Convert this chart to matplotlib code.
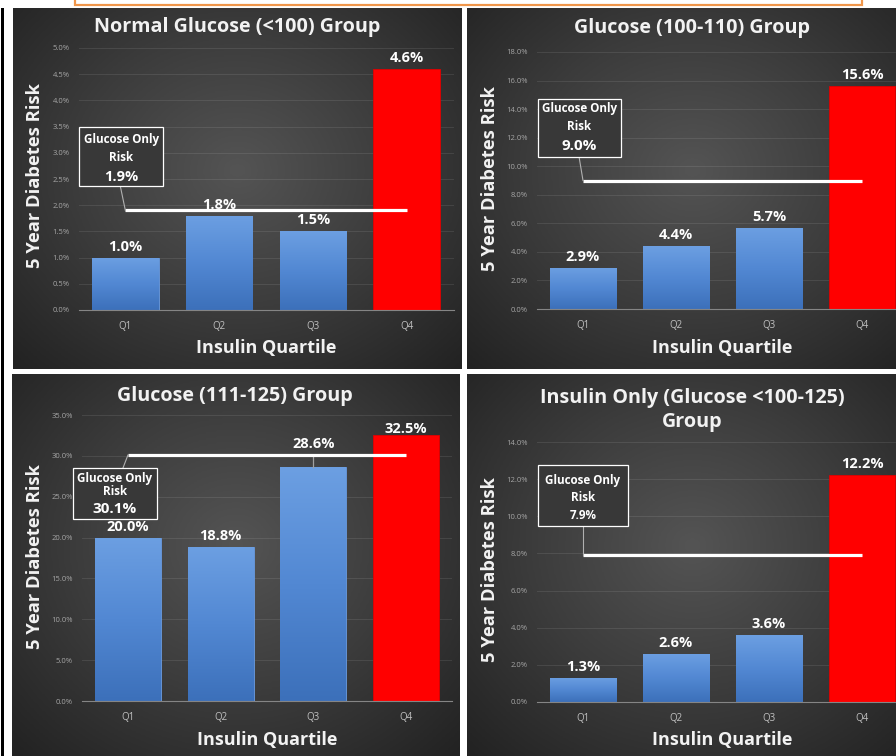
import numpy as np
import matplotlib
matplotlib.use("Agg")
import matplotlib.pyplot as plt
from matplotlib.patches import Rectangle
from matplotlib import transforms
from matplotlib.colors import LinearSegmentedColormap
from matplotlib.ticker import FuncFormatter

# ---- data (5-year diabetes risk, %) ----
quartiles = ["Q1", "Q2", "Q3", "Q4"]
normal_risk = [1.0, 1.8, 1.5, 4.6]
glucose_100_110_risk = [2.9, 4.4, 5.7, 15.6]
glucose_111_125_risk = [20.0, 18.8, 28.6, 32.5]
insulin_only_risk = [1.3, 2.6, 3.6, 12.2]
glucose_only_risk = [1.9, 9.0, 30.1, 7.9]
panel_titles = [
    "Normal Glucose (<100) Group",
    "Glucose (100-110) Group",
    "Glucose (111-125) Group",
    "Insulin Only (Glucose <100-125)\nGroup",
]
y_max = [5, 18, 35, 14]
y_step = [0.5, 2, 5, 2]

W, H = 896, 756
plt.rcParams['font.family'] = ['Open Sans', 'DejaVu Sans']
fig = plt.figure(figsize=(W / 100, H / 100), dpi=100)
fig.patch.set_facecolor('white')


def px_rect(x0, y0, x1, y1):
    return [x0 / W, 1 - y1 / H, (x1 - x0) / W, (y1 - y0) / H]


def fig_xy(x, y):
    return x / W, 1 - y / H


# layout in pixels (x0, y0, x1, y1), y measured from the top
panel_boxes = [(13, 8, 461, 369), (467, 8, 917, 369),
               (12, 374, 460, 756), (467, 374, 917, 756)]
plot_boxes = [(78.5, 48, 453.5, 310), (536.5, 52, 908.5, 309),
              (81.6, 415, 452.4, 701), (536.5, 442, 908.5, 702)]
title_pos = [(237, 27), (692, 28), (235, 396), (692, 410)]
ylabel_pos = [(35, 176), (490, 179), (35, 557), (490, 570)]
xlabel_y = [348, 348, 740, 740]

# callout geometry relative to the start of the glucose-only line (px, y down)
callouts = [
    dict(box=(-46, -83, 38, -24), lead=(-5, -24), lines=(-71, -53, -33), sizes=(8.4, 8.4, 10.5)),
    dict(box=(-45, -82, 38, -24), lead=(-4, -24), lines=(-72, -54, -34), sizes=(8.4, 8.4, 11)),
    dict(box=(-55, 13, 29, 64), lead=(-5, 13), lines=(23, 36, 54), sizes=(8.4, 8.4, 11)),
    dict(box=(-45, -90, 45, -29), lead=(0, -29), lines=(-75, -58, -40), sizes=(8.4, 8.4, 8.4)),
]

series = [normal_risk, glucose_100_110_risk, glucose_111_125_risk, insulin_only_risk]

bg_cmap = LinearSegmentedColormap.from_list('panel_bg', ['#545454', '#3c3c3c', '#222222'])
blue_cmap = LinearSegmentedColormap.from_list('bar_blue', ['#3c70ba', '#5288d3', '#6c9fe2'])

yy, xx = np.mgrid[0:1:200j, 0:1:300j]
radial = np.sqrt(((xx - 0.5) / 0.7) ** 2 + ((yy - 0.55) / 0.75) ** 2)
radial = np.clip(radial / radial.max(), 0, 1)
vert_grad = np.linspace(0, 1, 256).reshape(-1, 1)


def pixel_offset(ax, x, y):
    return (transforms.Affine2D().scale(0.01, -0.01) + fig.dpi_scale_trans
            + transforms.ScaledTranslation(x, y, ax.transData))


TXT = '#f2f2f2'

for k in range(4):
    # panel background
    bg = fig.add_axes(px_rect(*panel_boxes[k]), zorder=-5)
    bg.imshow(radial, cmap=bg_cmap, extent=[0, 1, 0, 1], aspect='auto',
              origin='lower', vmin=0, vmax=1)
    bg.set_axis_off()

    ax = fig.add_axes(px_rect(*plot_boxes[k]), zorder=1)
    ax.set_facecolor('none')
    vals = series[k]
    x = np.arange(len(quartiles))
    colors = ['#5288d3'] * 3 + ['#ff0000']
    bars = ax.bar(x, vals, width=0.71, color=colors, zorder=2,
                  edgecolor=['#6a9be0'] * 3 + ['#e00000'], linewidth=0.6)
    for i, b in enumerate(bars[:3]):
        x0 = b.get_x()
        im = ax.imshow(vert_grad, extent=[x0, x0 + b.get_width(), 0, vals[i]],
                       origin='lower', cmap=blue_cmap, aspect='auto', zorder=2.5)
        im.set_clip_path(b)

    ax.set_xlim(-0.5, 3.5)
    ax.set_ylim(0, y_max[k])
    ax.set_aspect('auto')
    ax.set_yticks(np.arange(0, y_max[k] + y_step[k] / 2, y_step[k]))
    ax.yaxis.set_major_formatter(FuncFormatter(lambda v, p: f'{v:.1f}%'))
    ax.set_xticks(x)
    ax.set_xticklabels(quartiles)
    ax.tick_params(axis='y', length=0, pad=6.5, labelsize=5.5, labelcolor='#a6a6a6')
    ax.tick_params(axis='x', length=0, pad=8, labelsize=7, labelcolor='#c0c0c0')
    for s in ('top', 'right', 'left'):
        ax.spines[s].set_visible(False)
    ax.spines['bottom'].set_color('#858585')
    ax.spines['bottom'].set_linewidth(0.8)
    ax.spines['bottom'].set_zorder(3)
    ax.yaxis.grid(True, color='#ffffff', alpha=0.09, linewidth=0.8)
    ax.set_axisbelow(True)

    # value labels
    for i, v in enumerate(vals):
        lift = 5.0
        if k == 2 and i == 2:
            lift = 14.0
            tr = pixel_offset(ax, i, v)
            ax.plot([0, 0], [0, -12], color='#a0a0a0', lw=0.9, transform=tr,
                    zorder=4, clip_on=False)
        if k == 2 and i == 3:
            lift = 1.5
        ax.annotate(f'{v:.1f}%', (i, v), xytext=(0, lift), textcoords='offset points',
                    ha='center', va='baseline', color='white', fontsize=10.5,
                    fontweight='bold', zorder=6, annotation_clip=False)

    # glucose-only reference line
    g = glucose_only_risk[k]
    ax.plot([x[0], x[-1]], [g, g], color='white', lw=2.3, zorder=5,
            solid_capstyle='butt')

    c = callouts[k]
    tr = pixel_offset(ax, x[0], g)
    ax.plot([c['lead'][0], 0], [c['lead'][1], 0], color='#b0b0b0', lw=0.8,
            transform=tr, zorder=6, clip_on=False)
    bx0, by0, bx1, by1 = c['box']
    ax.add_patch(Rectangle((bx0, by0), bx1 - bx0, by1 - by0, transform=tr,
                           facecolor='#383838', edgecolor='white', lw=0.9,
                           zorder=7, clip_on=False))
    cx = (bx0 + bx1) / 2
    for txt, ly, fs in zip(["Glucose Only", "Risk", f"{g:.1f}%"], c['lines'], c['sizes']):
        ax.text(cx, ly, txt, transform=tr, ha='center', va='center', color='white',
                fontsize=fs, fontweight='bold', zorder=8, clip_on=False)

    # titles and axis labels
    tx, ty = title_pos[k]
    fig.text(*fig_xy(tx, ty), panel_titles[k], ha='center', va='center',
             fontsize=14.2, fontweight='bold', color=TXT, linespacing=1.25)
    lx, ly = ylabel_pos[k]
    fig.text(*fig_xy(lx, ly), "5 Year Diabetes Risk", rotation=90, ha='center',
             va='center', fontsize=13.2, fontweight='bold', color=TXT)
    pb = plot_boxes[k]
    fig.text(*fig_xy((pb[0] + pb[2]) / 2, xlabel_y[k]), "Insulin Quartile",
             ha='center', va='center', fontsize=13, fontweight='bold', color=TXT)

# frame pieces around the panels
fig.patches.append(Rectangle((75 / W, 1 - 5 / H), (862 - 75) / W, 20 / H,
                             transform=fig.transFigure, facecolor='white',
                             edgecolor='#f0964a', lw=1.6, zorder=10))
fig.patches.append(Rectangle((1 / W, 0), 3 / W, 1 - 8 / H, transform=fig.transFigure,
                             facecolor='black', edgecolor='none', zorder=10))

fig.savefig('out.png', dpi=100, facecolor='white')
